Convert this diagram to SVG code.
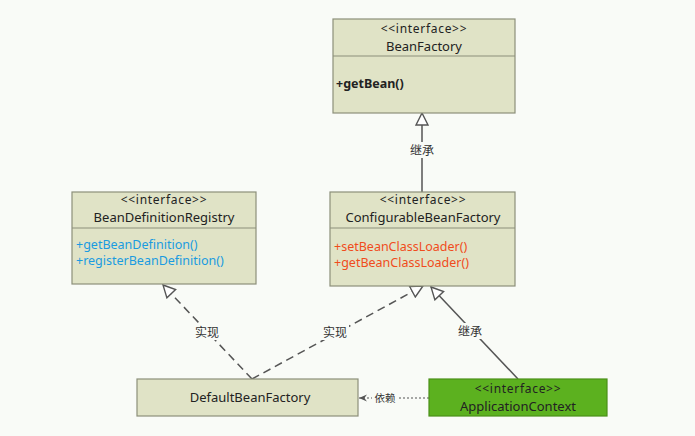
<svg xmlns="http://www.w3.org/2000/svg" width="695" height="436" viewBox="0 0 695 436">
<defs>
<style>
text{font-family:"Noto Sans","Noto Sans CJK SC",sans-serif;font-size:12.5px;fill:#222}
.box{fill:#e0e3c6;stroke:#8c8f7a;stroke-width:1.2}
.div{stroke:#8c8f7a;stroke-width:1.2}
.c{text-anchor:middle}
.lbl{font-size:12px;fill:#333}
.blue{fill:#1a9be0}
.red{fill:#f04c1c}
.ln{fill:none;stroke:#555;stroke-width:1.5}
.dash{stroke-dasharray:8 5}
.dot{stroke-dasharray:2 2;stroke-width:1.2}
.st{letter-spacing:0.7px;font-size:12px}
.nm{font-size:13px}
</style>
<marker id="tri" viewBox="0 0 14 14" refX="13" refY="7" markerWidth="14" markerHeight="14" markerUnits="userSpaceOnUse" orient="auto">
<path d="M1,1 L13,7 L1,13 Z" fill="#fff" stroke="#555" stroke-width="1.4"/>
</marker>
<marker id="arr" viewBox="0 0 10 10" refX="9" refY="5" markerWidth="9" markerHeight="9" markerUnits="userSpaceOnUse" orient="auto">
<path d="M0,1 L9,5 L0,9 L3,5 Z" fill="#555"/>
</marker>
</defs>
<rect width="695" height="436" fill="#f9fbf7"/>

<g id="connectors">
<line class="ln" x1="422" y1="192" x2="422" y2="113" marker-end="url(#tri)"/>
<rect x="408" y="142" width="28" height="16" fill="#f9fbf7"/>
<text class="lbl c" x="422" y="155">继承</text>

<line class="ln dash" x1="252" y1="379" x2="163" y2="285" marker-end="url(#tri)"/>
<rect x="193" y="324" width="28" height="16" fill="#f9fbf7"/>
<text class="lbl c" x="207" y="337">实现</text>

<line class="ln dash" x1="252" y1="379" x2="423" y2="286" marker-end="url(#tri)"/>
<rect x="321" y="324" width="28" height="16" fill="#f9fbf7"/>
<text class="lbl c" x="335" y="337">实现</text>

<line class="ln" x1="518" y1="379" x2="431" y2="287" marker-end="url(#tri)"/>
<rect x="456" y="323" width="28" height="16" fill="#f9fbf7"/>
<text class="lbl c" x="470" y="336">继承</text>

<line class="ln dot" x1="429" y1="398" x2="359" y2="398" marker-end="url(#arr)"/>
<rect x="372" y="391" width="26" height="14" fill="#f9fbf7"/>
<text class="lbl c" x="385" y="402" style="font-size:10.5px">依赖</text>
</g>

<g id="BeanFactory">
<rect class="box" x="333" y="19" width="182" height="94"/>
<line class="div" x1="333" y1="56" x2="515" y2="56"/>
<text class="c st" x="424" y="33">&lt;&lt;interface&gt;&gt;</text>
<text class="c nm" x="424" y="51">BeanFactory</text>
<text x="336" y="88" style="font-weight:bold">+getBean()</text>
</g>

<g id="BeanDefinitionRegistry">
<rect class="box" x="72" y="192" width="184" height="92"/>
<line class="div" x1="72" y1="228" x2="256" y2="228"/>
<text class="c st" x="164" y="204">&lt;&lt;interface&gt;&gt;</text>
<text class="c nm" x="164" y="222">BeanDefinitionRegistry</text>
<text class="blue" x="76" y="249">+getBeanDefinition()</text>
<text class="blue" x="76" y="265">+registerBeanDefinition()</text>
</g>

<g id="ConfigurableBeanFactory">
<rect class="box" x="330" y="192" width="185" height="94"/>
<line class="div" x1="330" y1="228" x2="515" y2="228"/>
<text class="c st" x="423" y="204">&lt;&lt;interface&gt;&gt;</text>
<text class="c nm" x="423" y="222">ConfigurableBeanFactory</text>
<text class="red" x="334" y="251">+setBeanClassLoader()</text>
<text class="red" x="334" y="267">+getBeanClassLoader()</text>
</g>

<g id="DefaultBeanFactory">
<rect class="box" x="137" y="379" width="221" height="37"/>
<text class="c nm" x="250" y="402">DefaultBeanFactory</text>
</g>

<g id="ApplicationContext">
<rect x="429" y="379" width="178" height="37" fill="#5cb11f" stroke="#4a8f18" stroke-width="1.2"/>
<text class="c st" x="518" y="393">&lt;&lt;interface&gt;&gt;</text>
<text class="c nm" x="518" y="411">ApplicationContext</text>
</g>
</svg>
